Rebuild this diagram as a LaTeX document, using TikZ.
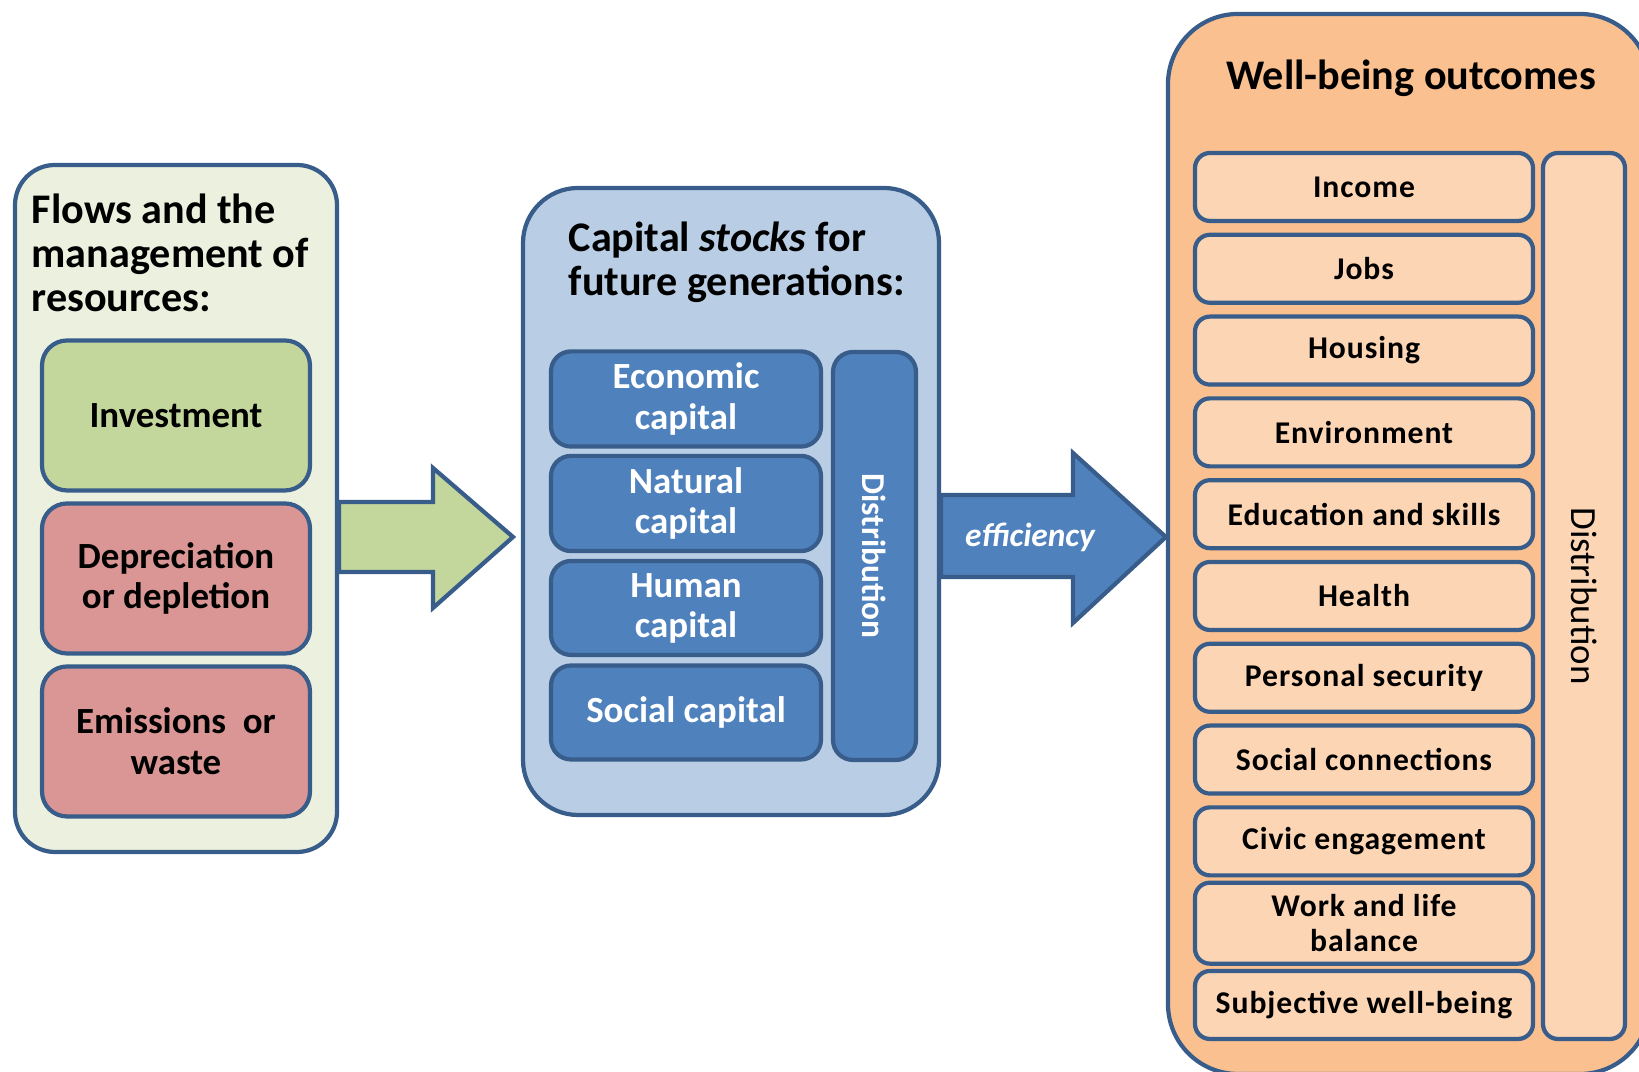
\documentclass[tikz,border=0pt]{standalone}
\usepackage{fontspec}
\setmainfont{Carlito}
\newfontfamily\itemfont{Carlito}[LetterSpace=3]
\usetikzlibrary{calc}

\definecolor{edgeblue}{HTML}{385D8A}
\definecolor{flowbg}{HTML}{EBF1DE}
\definecolor{investgreen}{HTML}{C3D69B}
\definecolor{lossred}{HTML}{D99694}
\definecolor{stockbg}{HTML}{B9CDE5}
\definecolor{stockblue}{HTML}{4F81BD}
\definecolor{wellbg}{HTML}{FAC090}
\definecolor{wellitem}{HTML}{FCD5B5}

\tikzset{
    panel/.style={draw=edgeblue,line width=1.2pt,inner sep=0pt},
    title/.style={align=left,anchor=west,inner sep=0pt,font=\fontsize{12}{12.6}\selectfont\bfseries},
    flowbox/.style={draw=edgeblue,line width=1.2pt,rounded corners=0.25cm,minimum width=2.68cm,minimum height=1.50cm,align=center,font=\fontsize{10.5}{11.6}\selectfont\bfseries},
    stockbox/.style={draw=edgeblue,fill=stockblue,line width=1.2pt,rounded corners=0.2cm,minimum width=2.70cm,minimum height=0.94cm,align=center,text=white,font=\fontsize{10.5}{11.4}\selectfont\bfseries},
    wellbox/.style={draw=edgeblue,fill=wellitem,line width=1.2pt,rounded corners=0.15cm,minimum width=3.38cm,minimum height=0.68cm,align=center,font=\itemfont\fontsize{9}{10}\selectfont\bfseries},
    blockarrow/.style={draw=edgeblue,line width=1.2pt,line join=miter}
}

\begin{document}
\begin{tikzpicture}
\fill[white] (0,0) rectangle (16.39,10.72);
\useasboundingbox (0,0) rectangle (16.39,10.72);

% flows
\node[panel,fill=flowbg,rounded corners=0.4cm,minimum width=3.22cm,minimum height=6.87cm] (flows) at (1.76,5.635) {};
\node[title] (flowstitle) at (0.31,8.19) {Flows and the\\management of\\resources:};
\node[flowbox,fill=investgreen] (invest) at (1.76,6.565) {Investment};
\node[flowbox,fill=lossred] (deplete) at (1.76,4.935) {Depreciation\\or depletion};
\node[flowbox,fill=lossred] (waste) at (1.76,3.305) {Emissions~ or\\waste};

% stocks
\node[panel,fill=stockbg,rounded corners=0.55cm,minimum width=4.16cm,minimum height=6.27cm] (stocks) at (7.31,5.705) {};
\node[title] (stockstitle) at (5.68,8.095) {Capital \textit{stocks} for\\future generations:};
\node[stockbox] (econ) at (6.86,6.73) {Economic\\capital};
\node[stockbox] (natural) at (6.86,5.685) {Natural\\capital};
\node[stockbox] (human) at (6.86,4.64) {Human\\capital};
\node[stockbox] (social) at (6.86,3.595) {Social capital};
\node[stockbox,minimum width=0.83cm,minimum height=4.08cm] (distA) at (8.745,5.16) {};
\node[rotate=-90,text=white,font=\fontsize{9.5}{10}\selectfont\bfseries] (distAtext) at (distA) {Distribution};

% well-being
\node[panel,fill=wellbg,rounded corners=0.7cm,minimum width=4.82cm,minimum height=10.60cm] (wellbeing) at (14.09,5.28) {};
\node[font=\fontsize{12}{13}\selectfont\bfseries] (welltitle) at (14.11,9.94) {Well-being outcomes};
\foreach \lbl [count=\k from 0] in {Income,Jobs,Housing,Environment,Education and skills,Health,Personal security,Social connections,Civic engagement,Work and life\\balance,Subjective well-being}
    \node[wellbox] (w\k) at (13.64,8.85-\k*0.818) {\lbl};
\node[wellbox,minimum width=0.82cm,minimum height=8.86cm] (distB) at (15.84,4.76) {};
\node[rotate=-90,font=\fontsize{10.5}{11}\selectfont] (distBtext) at (distB) {Distribution};

% arrows
\draw[blockarrow,fill=investgreen] (flows.east |- 0,5.70) -- (4.33,5.70) -- (4.33,6.04) -- (5.13,5.35) -- (4.33,4.64) -- (4.33,5.00) -- (flows.east |- 0,5.00) -- cycle;
\draw[blockarrow,fill=stockblue] (stocks.east |- 0,5.77) -- (10.73,5.77) -- (10.73,6.19) -- (wellbeing.west |- 0,5.35) -- (10.73,4.49) -- (10.73,4.95) -- (stocks.east |- 0,4.95) -- cycle;
\node[text=white,font=\fontsize{9.5}{10}\selectfont\bfseries\itshape] (eff) at (10.30,5.35) {efficiency};
\end{tikzpicture}
\end{document}
